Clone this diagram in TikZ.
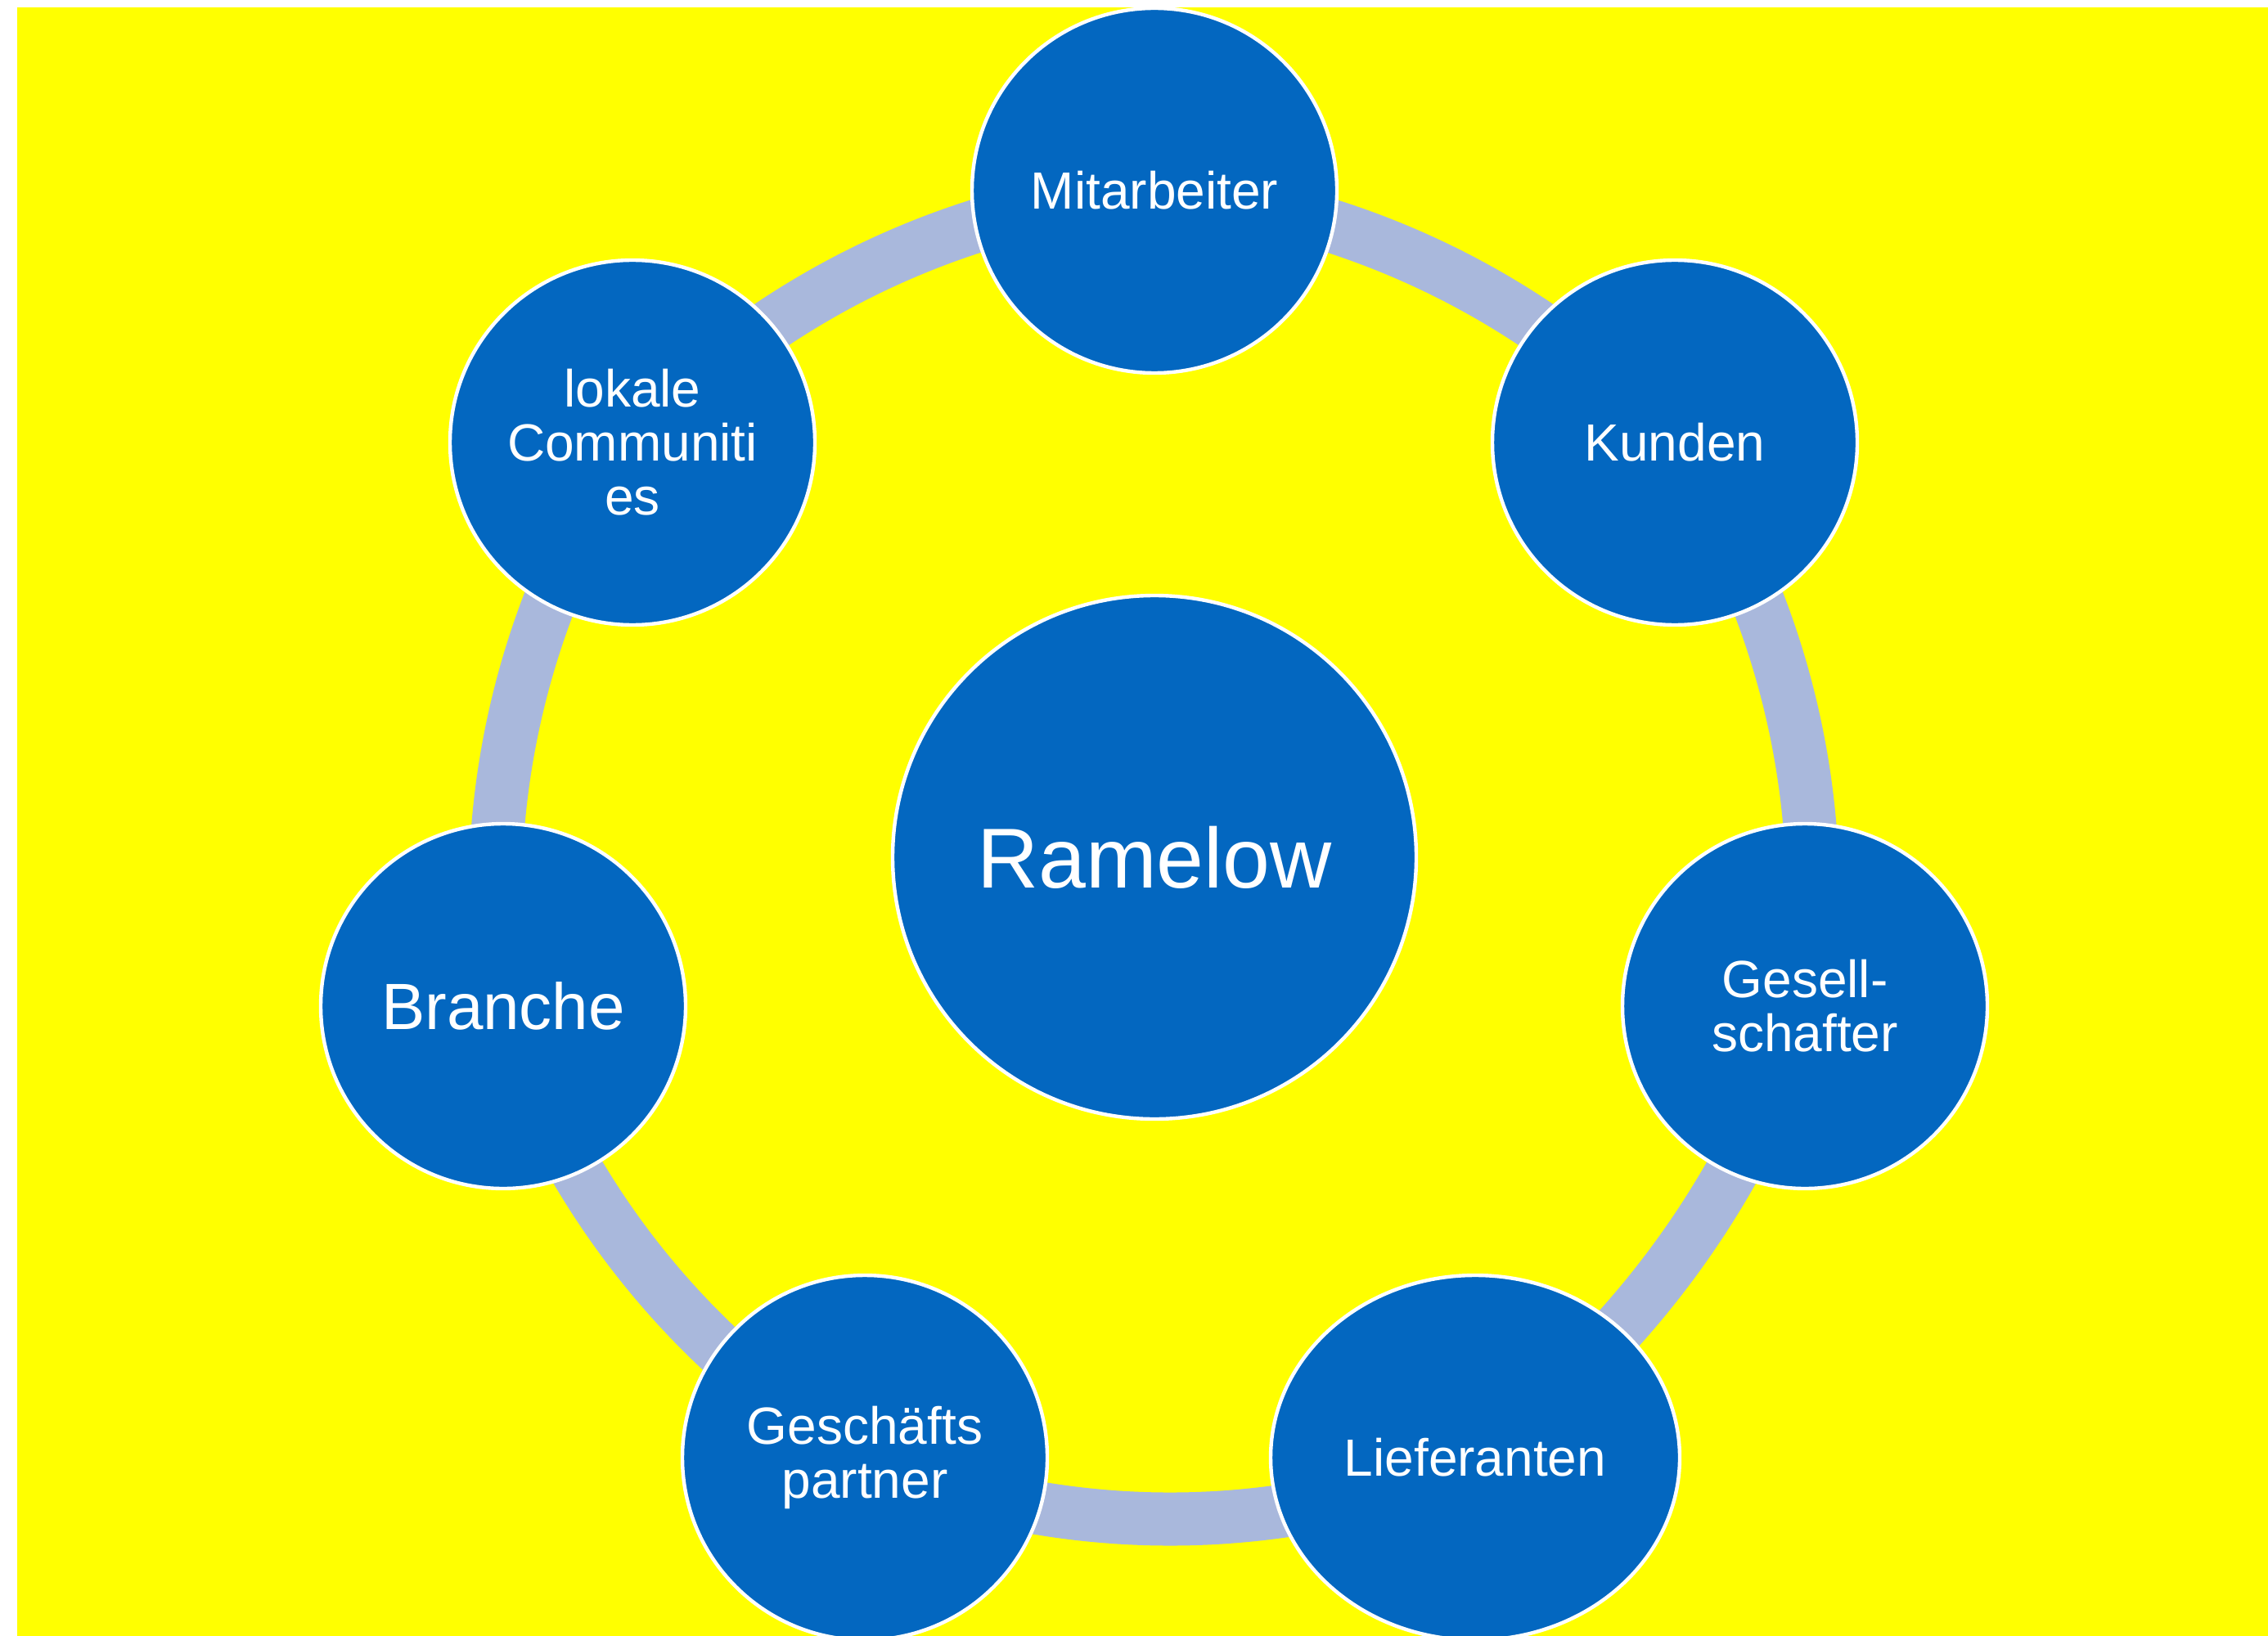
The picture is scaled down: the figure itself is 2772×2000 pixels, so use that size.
\documentclass[tikz,border=0pt]{standalone}
\usepackage{fontspec}
\setmainfont{Liberation Sans}
\usetikzlibrary{shapes.geometric,backgrounds}

\definecolor{ringblue}{RGB}{169,184,220}
\definecolor{partyblue}{RGB}{3,103,192}
\definecolor{fieldyellow}{RGB}{255,255,0}

\tikzset{every picture/.style={line width=0.75pt}}
\tikzset{
  party/.style={circle, draw=white, line width=1.1pt, fill=partyblue, text=white,
    minimum size=111.5pt, inner sep=0pt, align=center,
    font=\fontsize{16}{16.5}\selectfont},
  ring/.style={draw=ringblue, line width=16.25pt, looseness=0.88},
}

\begin{document}
\begin{tikzpicture}[x=0.25pt,y=0.25pt,yscale=-1,xscale=1]
\useasboundingbox (0,0) rectangle (2772,2000);

%Shape: Circle [centre]
\node[party, minimum size=160pt, font=\fontsize{26}{30}\selectfont] (ram) at (1411,1048) {Ramelow};

%Shape: Circle [ring of groups]
\node[party] (mit) at (1411,233) {Mitarbeiter};
\node[party] (kun) at (2047,541) {Kunden};
\node[party] (ges) at (2206,1230) {Gesell-\\schafter};
\node[party, ellipse, minimum width=125pt, minimum height=111.5pt] (lie) at (1803,1782) {Lieferanten};
\node[party] (gsp) at (1057,1782) {Geschäfts\\partner};
\node[party, font=\fontsize{20}{22}\selectfont] (bra) at (615,1230) {Branche};
\node[party] (lok) at (773,541) {lokale\\Communiti\\es};

\begin{scope}[on background layer]
%Shape: Rectangle [yellow field]
\fill[fieldyellow] (21,9) rectangle (2772,2000);
%Curve Lines
\draw[ring] (mit.center) to[bend right=21] (kun.center);
%Curve Lines
\draw[ring] (kun.center) to[bend right=21] (ges.center);
%Curve Lines
\draw[ring] (ges.center) to[bend right=18] (lie.center);
%Curve Lines
\draw[ring] (lie.center) to[bend right=23] (gsp.center);
%Curve Lines
\draw[ring] (gsp.center) to[bend right=21] (bra.center);
%Curve Lines
\draw[ring] (bra.center) to[bend right=21] (lok.center);
%Curve Lines
\draw[ring] (lok.center) to[bend right=21] (mit.center);
\end{scope}

\end{tikzpicture}
\end{document}
